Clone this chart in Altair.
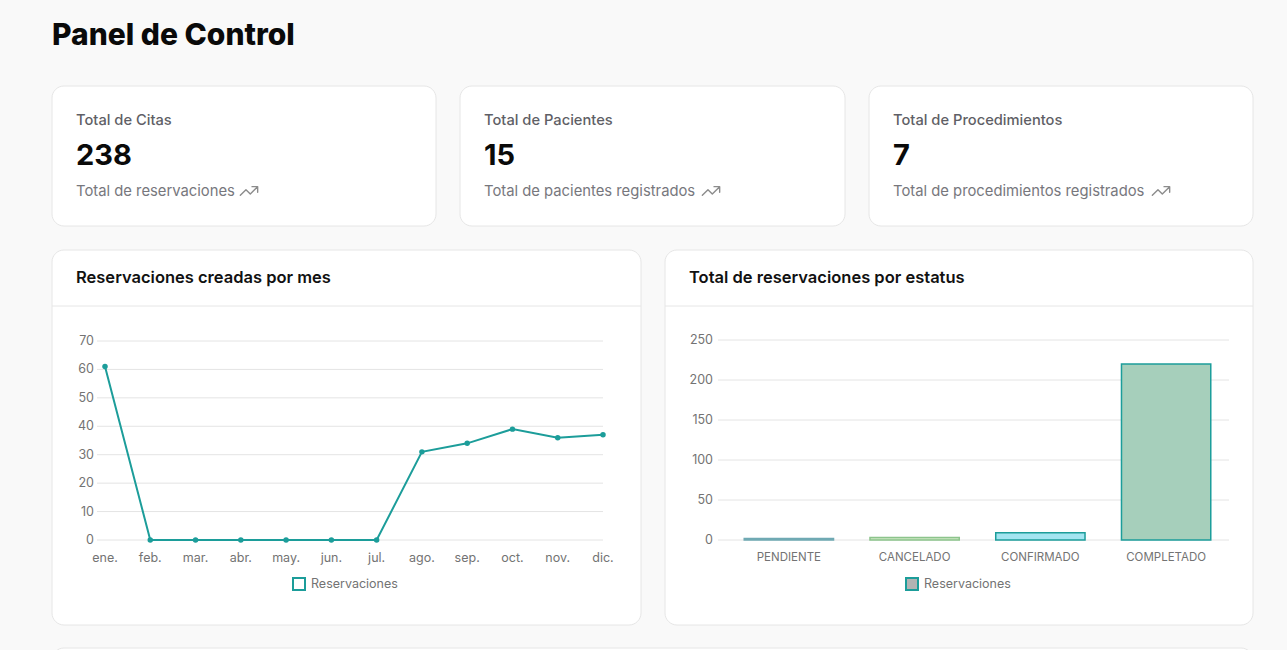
import altair as alt
import pandas as pd

# ---- data -------------------------------------------------------------
months = ["ene.", "feb.", "mar.", "abr.", "may.", "jun.",
          "jul.", "ago.", "sep.", "oct.", "nov.", "dic."]
monthly_bookings = [61, 0, 0, 0, 0, 0, 0, 31, 34, 39, 36, 37]

statuses = ["PENDIENTE", "CANCELADO", "CONFIRMADO", "COMPLETADO"]
status_counts = [2, 3, 9, 220]

line_ticks = [0, 10, 20, 30, 40, 50, 60, 70]
bar_ticks = [0, 50, 100, 150, 200, 250]

stat_titles = ["Total de Citas", "Total de Pacientes", "Total de Procedimientos"]
stat_values = ["238", "15", "7"]
stat_notes = ["Total de reservaciones", "Total de pacientes registrados",
              "Total de procedimientos registrados"]

page_title = "Panel de Control"
chart_titles = ["Reservaciones creadas por mes", "Total de reservaciones por estatus"]
series_name = "Reservaciones"

# ---- styling ------------------------------------------------------------
FONT = "Inter"
TEAL = "#1c9d9a"
CARD_STROKE = "#e6e6e6"
TICK = "#737373"
GRID = "#e4e4e4"
bar_fills = ["#9cc6cc", "#cfe8c4", "#a3e5f1", "#a6cfbb"]
bar_strokes = ["#6fa9b3", "#8cc48c", TEAL, TEAL]

one = pd.DataFrame({"k": [0]})


def card(x, y, x2, y2, r=12):
    return alt.Chart(one).mark_rect(
        fill="white", stroke=CARD_STROKE, strokeWidth=1, cornerRadius=r
    ).encode(x=alt.value(x), x2=alt.value(x2), y=alt.value(y), y2=alt.value(y2))


def hline(x, x2, y, color=CARD_STROKE):
    return alt.Chart(one).mark_rule(color=color, strokeWidth=1).encode(
        x=alt.value(x), x2=alt.value(x2), y=alt.value(y))


def label(text, x, y, size, color, weight="normal", align="left"):
    return alt.Chart(one).mark_text(
        text=text, align=align, baseline="middle", fontSize=size,
        color=color, fontWeight=weight, font=FONT
    ).encode(x=alt.value(x), y=alt.value(y))


def trend_icon(x, y):
    path = "M-1,0.5 L-0.35,-0.15 L0.15,0.35 L1,-0.5 M0.35,-0.5 L1,-0.5 L1,0.15"
    return alt.Chart(one).mark_point(
        shape=path, size=300, filled=False, stroke="#8c8c8c", strokeWidth=1.4,
        opacity=1, strokeCap="round", strokeJoin="round"
    ).encode(x=alt.value(x), y=alt.value(y))


def swatch(x, y, fill, stroke):
    return alt.Chart(one).mark_rect(fill=fill, stroke=stroke, strokeWidth=2).encode(
        x=alt.value(x), x2=alt.value(x + 12), y=alt.value(y), y2=alt.value(y + 12))


layers = [label(page_title, 52, 36, 30, "#0a0a0a", weight=800)]

# summary cards
card_lefts = [52, 460, 869]
card_rights = [436, 845, 1253]
icon_x = [249, 711, 1161]
for i in range(3):
    x0 = card_lefts[i]
    layers += [
        card(x0, 86, card_rights[i], 226),
        label(stat_titles[i], x0 + 24, 121, 14.7, "#5f5f66", weight=500),
        label(stat_values[i], x0 + 24, 156, 29, "#0a0a0a", weight=700),
        label(stat_notes[i], x0 + 24, 192, 14.8, "#77777d"),
        trend_icon(icon_x[i], 191),
    ]

# chart cards
layers += [
    card(52, 250, 641, 625), hline(52, 641, 306),
    label(chart_titles[0], 76, 278, 16.5, "#111111", weight=600),
    card(665, 250, 1253, 625), hline(665, 1253, 306),
    label(chart_titles[1], 689, 278, 16.5, "#111111", weight=600),
    card(52, 648, 1253, 720),
]

# ---- monthly line chart -------------------------------------------------
line_df = pd.DataFrame({"mes": months, "reservas": monthly_bookings})
line_tick_df = pd.DataFrame({"v": line_ticks})
mx = alt.Scale(type="point", domain=months, range=[105, 603], padding=0)
my = alt.Scale(domain=[0, 70], range=[540, 341], nice=False, zero=True)

line_grid = alt.Chart(line_tick_df).mark_rule(color=GRID, strokeWidth=1).encode(
    y=alt.Y("v:Q", scale=my, axis=None), x=alt.value(97), x2=alt.value(603))
line_ylab = alt.Chart(line_tick_df).mark_text(
    align="right", baseline="middle", fontSize=12.5, color=TICK, font=FONT
).encode(y=alt.Y("v:Q", scale=my, axis=None), x=alt.value(94), text="v:Q")
line_xlab = alt.Chart(line_df).mark_text(
    align="center", baseline="middle", fontSize=12.5, color=TICK, font=FONT
).encode(x=alt.X("mes:N", scale=mx, sort=months, axis=None), y=alt.value(558), text="mes:N")
line_mark = alt.Chart(line_df).mark_line(color=TEAL, strokeWidth=2).encode(
    x=alt.X("mes:N", scale=mx, sort=months, axis=None),
    y=alt.Y("reservas:Q", scale=my, axis=None))
line_pts = alt.Chart(line_df).mark_circle(color=TEAL, size=30, opacity=1).encode(
    x=alt.X("mes:N", scale=mx, sort=months, axis=None),
    y=alt.Y("reservas:Q", scale=my, axis=None))

line_chart = alt.layer(line_grid, line_ylab, line_xlab, line_mark, line_pts)

# ---- status bar chart ---------------------------------------------------
bar_df = pd.DataFrame({"estatus": statuses, "n": status_counts})
bar_tick_df = pd.DataFrame({"v": bar_ticks})
bx = alt.Scale(type="band", domain=statuses, range=[726, 1229],
               paddingInner=0.29, paddingOuter=0.145)
by = alt.Scale(domain=[0, 250], range=[540, 340], nice=False, zero=True)

bar_grid = alt.Chart(bar_tick_df).mark_rule(color=GRID, strokeWidth=1).encode(
    y=alt.Y("v:Q", scale=by, axis=None), x=alt.value(718), x2=alt.value(1229))
bar_ylab = alt.Chart(bar_tick_df).mark_text(
    align="right", baseline="middle", fontSize=12.5, color=TICK, font=FONT
).encode(y=alt.Y("v:Q", scale=by, axis=None), x=alt.value(713), text="v:Q")
bar_xlab = alt.Chart(bar_df).mark_text(
    align="center", baseline="middle", fontSize=11.5, color=TICK, font=FONT
).encode(x=alt.X("estatus:N", scale=bx, axis=None), y=alt.value(558), text="estatus:N")
bar_mark = alt.Chart(bar_df).mark_bar(strokeWidth=1.5).encode(
    x=alt.X("estatus:N", scale=bx, axis=None),
    y=alt.Y("n:Q", scale=by, axis=None),
    fill=alt.Fill("estatus:N", scale=alt.Scale(domain=statuses, range=bar_fills), legend=None),
    stroke=alt.Stroke("estatus:N", scale=alt.Scale(domain=statuses, range=bar_strokes), legend=None),
)

bar_chart = alt.layer(bar_grid, bar_ylab, bar_xlab, bar_mark)

# legends
layers += [
    swatch(293, 578, "white", TEAL),
    label(series_name, 311, 584, 12.5, TICK),
    swatch(906, 578, "#b3b3b3", TEAL),
    label(series_name, 924, 584, 12.5, TICK),
]

chart = alt.layer(*layers, line_chart, bar_chart).resolve_scale(
    x="independent", y="independent", fill="independent", stroke="independent"
).properties(
    width=1287, height=650, background="#f9f9f9", padding=0,
    autosize=alt.AutoSizeParams(type="none"),
).configure_view(stroke=None)

chart.save("out.html", embed_options={"renderer": "svg", "actions": False})
